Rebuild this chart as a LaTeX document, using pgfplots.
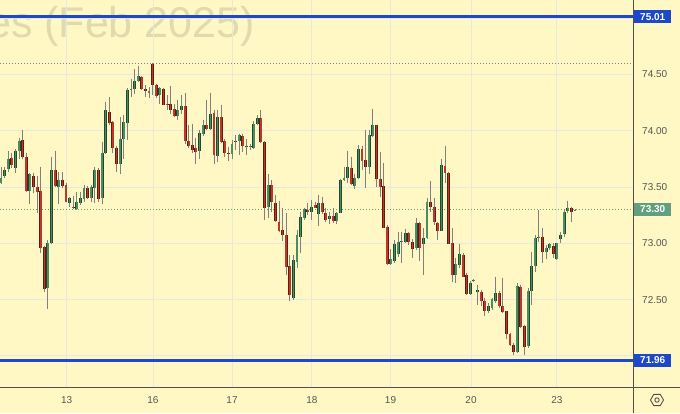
\documentclass[border=0pt]{standalone}
\usepackage{pgfplots}
\pgfplotsset{compat=1.18}
\usepackage{pgfplotstable}
\usepackage{fontspec}
\setmainfont{Liberation Sans}
\definecolor{bg}{RGB}{255,248,196}
\definecolor{wm}{RGB}{224,218,172}
\definecolor{gridc}{RGB}{232,231,226}
\definecolor{tickc}{RGB}{85,85,85}
\definecolor{axc}{RGB}{80,80,80}
\definecolor{lblue}{RGB}{28,72,204}
\definecolor{lgreen}{RGB}{96,160,126}
\definecolor{wick}{RGB}{128,128,128}
\definecolor{upfill}{RGB}{72,142,98}
\definecolor{upedge}{RGB}{32,74,48}
\definecolor{dnfill}{RGB}{188,56,42}
\definecolor{dnedge}{RGB}{100,26,16}
\definecolor{hidot}{RGB}{130,130,130}
\definecolor{curdot}{RGB}{90,160,115}

\pgfplotsset{candle/.style={only marks, mark=*, mark size=0pt, mark options={draw=none, fill=none},
  error bars/.cd, y dir=minus, y explicit, error mark=none}}

\pgfplotstableread{
i o h l c
1 73.531 73.678 73.522 73.581
2 73.599 73.678 73.584 73.655
3 73.658 73.820 73.634 73.752
5 73.670 73.835 73.628 73.820
6 73.820 73.935 73.752 73.909
9 73.466 73.625 73.345 73.611
14 72.602 73.029 72.419 73.000
15 73.000 73.767 72.994 73.649
17 73.501 73.634 73.345 73.558
20 73.354 73.413 73.319 73.404
22 73.304 73.457 73.295 73.369
23 73.354 73.451 73.339 73.398
24 73.392 73.516 73.369 73.487
26 73.404 73.516 73.369 73.501
27 73.493 73.678 73.360 73.655
29 73.404 73.900 73.348 73.805
30 73.805 74.254 73.796 74.180
34 73.708 74.121 73.611 73.929
35 73.929 74.142 73.752 74.077
36 74.071 74.378 73.914 74.363
37 74.357 74.460 74.298 74.372
38 74.372 74.549 74.327 74.445
39 74.440 74.578 74.431 74.481
42 74.333 74.386 74.289 74.348
45 74.313 74.386 74.239 74.378
50 74.130 74.268 74.097 74.180
51 74.180 74.313 74.150 74.218
56 73.820 74.003 73.752 73.982
57 73.973 74.097 73.950 74.047
59 74.015 74.336 74.003 74.145
61 73.776 74.180 73.723 74.121
65 73.796 73.914 73.752 73.885
66 73.900 73.959 73.826 73.909
67 73.906 73.973 73.782 73.959
69 73.861 73.929 73.782 73.867
70 73.858 73.885 73.826 73.864
71 73.850 74.083 73.841 74.062
72 74.056 74.136 74.047 74.112
75 73.324 73.611 73.227 73.516
82 72.513 72.897 72.499 72.853
83 72.838 73.118 72.779 73.074
84 73.059 73.280 72.912 73.236
85 73.221 73.316 73.206 73.301
87 73.274 73.383 73.206 73.324
89 73.257 73.428 73.156 73.360
92 73.212 73.280 73.168 73.242
94 73.201 73.280 73.171 73.265
95 73.271 73.575 73.265 73.560
96 73.560 73.678 73.552 73.581
97 73.581 73.817 73.531 73.678
99 73.510 73.619 73.478 73.584
100 73.581 73.876 73.569 73.835
103 73.678 74.003 73.619 73.959
104 73.953 74.195 73.944 74.047
109 72.817 72.947 72.808 72.858
110 72.847 73.029 72.823 72.994
111 72.903 73.103 72.882 73.015
112 73.012 73.103 72.823 73.018
113 73.015 73.127 73.000 73.088
116 72.956 73.221 72.941 73.177
118 72.991 73.133 72.714 73.050
119 73.044 73.404 73.035 73.369
123 73.112 73.752 73.105 73.699
127 72.714 72.867 72.646 72.817
128 72.808 72.991 72.779 72.906
131 72.549 72.661 72.537 72.646
132 72.664 72.684 72.652 72.670
133 72.566 72.631 72.454 72.587
136 72.395 72.469 72.381 72.440
137 72.425 72.513 72.410 72.507
138 72.484 72.705 72.469 72.558
144 72.032 72.646 72.027 72.617
147 72.086 72.602 72.071 72.572
148 72.572 72.926 72.448 72.794
149 72.794 73.074 72.749 73.050
150 73.044 73.295 73.015 73.059
152 72.920 72.985 72.861 72.962
153 72.962 73.000 72.941 72.991
155 72.858 73.006 72.853 73.000
156 73.035 73.103 73.000 73.074
157 73.083 73.304 73.059 73.274
158 73.286 73.378 73.265 73.316
160 73.292 73.302 73.288 73.298
}\upc

\pgfplotstableread{
i o h l c
4 73.761 73.802 73.664 73.693
7 73.914 74.003 73.752 73.767
8 73.767 73.805 73.457 73.463
10 73.599 73.628 73.442 73.496
11 73.501 73.599 73.265 73.457
12 73.466 73.673 72.917 72.956
13 72.965 72.979 72.566 72.596
16 73.649 73.817 73.501 73.510
18 73.560 73.634 73.487 73.510
19 73.516 73.537 73.363 73.369
21 73.324 73.422 73.304 73.310
25 73.487 73.507 73.389 73.404
28 73.655 73.664 73.369 73.392
31 74.165 74.298 74.053 74.071
32 74.077 74.083 73.805 73.847
33 73.850 73.861 73.634 73.708
40 74.475 74.481 74.357 74.372
41 74.372 74.401 74.298 74.354
43 74.593 74.600 74.319 74.407
44 74.407 74.416 74.289 74.307
46 74.372 74.381 74.224 74.230
47 74.233 74.313 74.180 74.224
48 74.233 74.392 74.150 74.180
49 74.195 74.239 74.121 74.130
52 74.218 74.333 73.885 73.906
53 73.906 74.047 73.850 73.861
54 73.870 74.062 73.805 73.832
55 73.850 73.935 73.708 73.811
58 74.047 74.268 74.003 74.012
60 74.159 74.180 73.708 73.782
62 74.121 74.230 73.894 73.900
63 73.906 73.929 73.767 73.805
64 73.802 73.855 73.732 73.794
68 73.950 73.973 73.811 73.864
73 74.112 74.180 73.894 73.900
74 73.900 73.906 73.206 73.316
76 73.516 73.560 73.280 73.363
77 73.354 73.428 73.192 73.198
78 73.192 73.378 73.103 73.112
79 73.118 73.316 73.024 73.074
80 73.074 73.265 72.720 72.788
81 72.794 72.897 72.484 72.537
86 73.295 73.354 73.251 73.274
88 73.339 73.369 73.310 73.316
90 73.360 73.413 73.257 73.274
91 73.265 73.316 73.186 73.206
93 73.242 73.316 73.177 73.201
98 73.664 73.767 73.516 73.522
101 73.835 73.864 73.649 73.732
102 73.737 74.003 73.487 73.678
105 74.047 74.052 73.501 73.575
106 73.575 73.811 73.413 73.496
107 73.507 73.714 73.133 73.139
108 73.147 73.162 72.808 72.817
114 73.088 73.103 72.985 73.009
115 73.015 73.035 72.867 72.950
117 73.177 73.192 72.844 72.962
120 73.369 73.552 73.280 73.324
121 73.324 73.398 73.162 73.186
122 73.177 73.192 73.029 73.112
124 73.684 73.864 73.531 73.628
125 73.628 73.634 72.991 72.994
126 73.000 73.133 72.652 72.714
129 72.897 72.917 72.699 72.705
130 72.720 72.735 72.543 72.549
134 72.566 72.587 72.440 72.484
135 72.484 72.513 72.351 72.395
139 72.558 72.572 72.425 72.440
140 72.440 72.696 72.381 72.389
141 72.395 72.401 72.153 72.195
142 72.195 72.204 72.086 72.094
143 72.100 72.115 72.006 72.032
145 72.608 72.631 72.248 72.254
146 72.263 72.277 72.006 72.077
151 73.059 73.133 72.823 72.920
154 72.976 73.000 72.867 72.906
159 73.310 73.324 73.192 73.274
}\dnc

\begin{document}
\begin{tikzpicture}
\useasboundingbox (0pt,-26pt) rectangle (680pt,387pt);
\fill[bg] (0pt,-26pt) rectangle (680pt,387pt);
\begin{scope}
\clip (0pt,0pt) rectangle (633pt,387pt);
\node[anchor=base east, text=wm, font=\fontsize{43}{43}\selectfont, inner sep=0pt] at (255pt,349pt) {Futures (Feb 2025)};
\end{scope}
\begin{axis}[
  at={(0pt,0pt)}, anchor=south west,
  scale only axis, width=633pt, height=387pt,
  xmin=0.72, xmax=176.07, ymin=71.724, ymax=75.160,
  enlargelimits=false, clip=false,
  axis line style={draw=none},
  major tick length=0pt,
  grid=major,
  major grid style={draw=gridc, line width=0.9pt},
  xtick={19.2,43.1,65,87.1,108.9,131.2,155},
  xticklabels={13,16,17,18,19,20,23},
  ytick={72,72.5,73,73.5,74,74.5,75},
  yticklabels={,72.50,73.00,73.50,74.00,74.50,},
  yticklabel pos=right,
  yticklabel style={anchor=west, inner sep=0pt, xshift=9pt, text=tickc, font=\fontsize{10}{12}\selectfont},
  xticklabel style={anchor=center, inner sep=0pt, yshift=-13pt, text=tickc, font=\fontsize{10}{12}\selectfont},
  /pgf/number format/assume math mode=true,
]
% reference lines
\addplot[draw=hidot, line width=0.8pt, dash pattern=on 1pt off 2pt] coordinates {(0.72,74.593) (176.07,74.593)};
\addplot[draw=curdot, line width=0.9pt, dash pattern=on 1pt off 2pt] coordinates {(0.72,73.30) (176.07,73.30)};
% wicks
\addplot[candle, error bar style={draw=wick, line width=0.9pt}]
  table[x=i, y=h, y error minus expr=\thisrow{h}-\thisrow{l}] {\upc};
\addplot[candle, error bar style={draw=wick, line width=0.9pt}]
  table[x=i, y=h, y error minus expr=\thisrow{h}-\thisrow{l}] {\dnc};
% bodies: edge then fill
\addplot[candle, error bar style={draw=upedge, line width=2.9pt}]
  table[x=i, y=c, y error minus expr=\thisrow{c}-\thisrow{o}] {\upc};
\addplot[candle, error bar style={draw=upfill, line width=1.6pt}]
  table[x=i, y=c, y error minus expr=\thisrow{c}-\thisrow{o}] {\upc};
\addplot[candle, error bar style={draw=dnedge, line width=2.9pt}]
  table[x=i, y=o, y error minus expr=\thisrow{o}-\thisrow{c}] {\dnc};
\addplot[candle, error bar style={draw=dnfill, line width=1.6pt}]
  table[x=i, y=o, y error minus expr=\thisrow{o}-\thisrow{c}] {\dnc};
% level lines
\addplot[draw=lblue, line width=3pt] coordinates {(0.72,75.01) (176.07,75.01)};
\addplot[draw=lblue, line width=3pt] coordinates {(0.72,71.96) (176.07,71.96)};
% price labels
\node[anchor=west, xshift=1pt, fill=lblue, text=white, font=\bfseries\fontsize{10}{12}\selectfont, minimum width=37pt, minimum height=13pt, inner sep=0pt] at (axis cs:176.07,75.01) {75.01};
\node[anchor=west, xshift=1pt, fill=lblue, text=white, font=\bfseries\fontsize{10}{12}\selectfont, minimum width=37pt, minimum height=13pt, inner sep=0pt] at (axis cs:176.07,71.96) {71.96};
\node[anchor=west, xshift=1pt, fill=lgreen, text=white, font=\bfseries\fontsize{10}{12}\selectfont, minimum width=37pt, minimum height=13pt, inner sep=0pt] at (axis cs:176.07,73.30) {73.30};
\end{axis}
\draw[axc, line width=0.8pt] (633pt,-26pt) -- (633pt,387pt);
\draw[axc, line width=0.8pt] (0pt,0pt) -- (680pt,0pt);
\draw[axc, line width=0.9pt] (657pt,-13pt) ++(6.5pt,0pt) -- ++(120:6.5pt) -- ++(180:6.5pt) -- ++(240:6.5pt) -- ++(300:6.5pt) -- ++(0:6.5pt) -- cycle;
\draw[axc, line width=0.9pt] (657pt,-13pt) circle (2.2pt);
\end{tikzpicture}
\end{document}
